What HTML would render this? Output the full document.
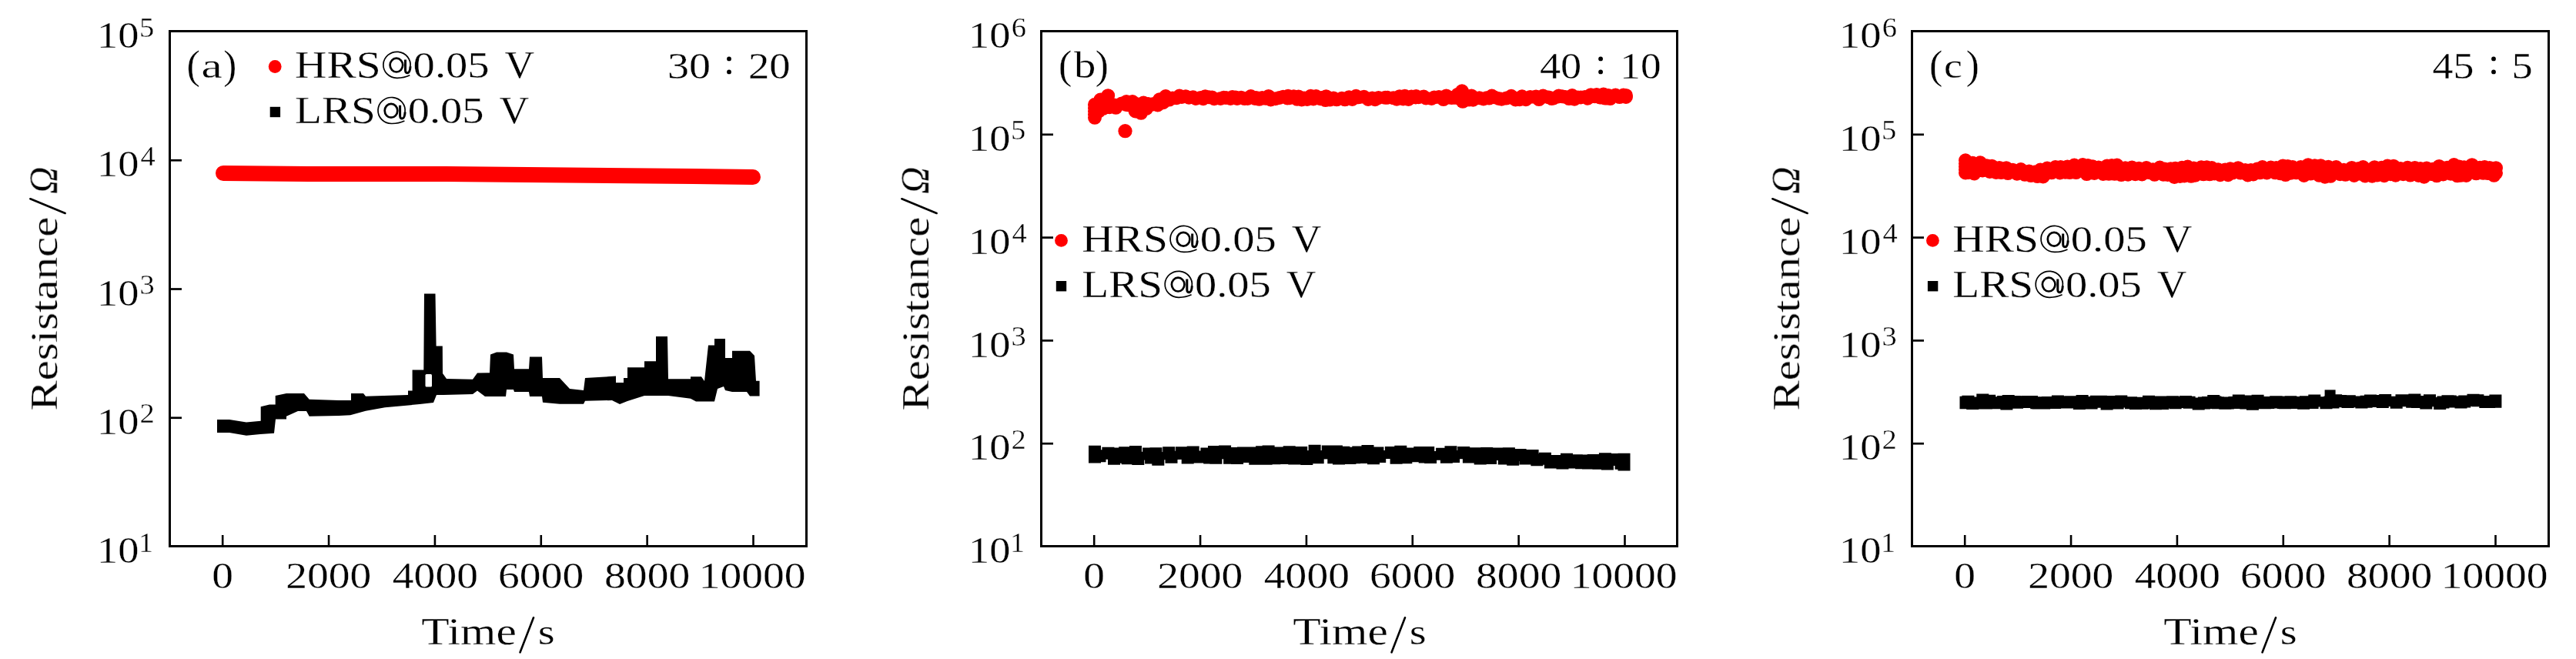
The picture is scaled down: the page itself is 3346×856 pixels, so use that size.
<!DOCTYPE html><html><head><meta charset="utf-8"><style>html,body{margin:0;padding:0;background:#fff;overflow:hidden}svg{display:block;font-family:"Liberation Serif",serif} text{will-change:transform;stroke:#fff;stroke-width:0.3px}</style></head><body>
<svg width="3346" height="856" viewBox="0 0 3346 856" fill="#000">
<rect width="3346" height="856" fill="#fff"/>
<rect x="220.5" y="40.5" width="827.0" height="669.0" fill="none" stroke="#000" stroke-width="3"/>
<line x1="289.20" y1="709.5" x2="289.20" y2="695.0" stroke="#000" stroke-width="2.6"/>
<text transform="translate(275.31,764.40) scale(1.1200,1)" font-size="49.60">0</text>
<line x1="427.06" y1="709.5" x2="427.06" y2="695.0" stroke="#000" stroke-width="2.6"/>
<text transform="translate(371.30,764.40) scale(1.1200,1)" font-size="49.60">2000</text>
<line x1="564.92" y1="709.5" x2="564.92" y2="695.0" stroke="#000" stroke-width="2.6"/>
<text transform="translate(509.85,764.40) scale(1.1200,1)" font-size="49.60">4000</text>
<line x1="702.78" y1="709.5" x2="702.78" y2="695.0" stroke="#000" stroke-width="2.6"/>
<text transform="translate(647.09,764.40) scale(1.1200,1)" font-size="49.60">6000</text>
<line x1="840.64" y1="709.5" x2="840.64" y2="695.0" stroke="#000" stroke-width="2.6"/>
<text transform="translate(785.09,764.40) scale(1.1200,1)" font-size="49.60">8000</text>
<line x1="978.50" y1="709.5" x2="978.50" y2="695.0" stroke="#000" stroke-width="2.6"/>
<text transform="translate(907.67,764.40) scale(1.1200,1)" font-size="49.60">10000</text>
<text transform="translate(125.94,731.20) scale(1.1200,1)" font-size="48.60">10</text>
<text transform="translate(179.94,716.50) scale(1.0800,1)" font-size="35.60">1</text>
<line x1="220.5" y1="542.75" x2="236.0" y2="542.75" stroke="#000" stroke-width="2.7"/>
<text transform="translate(125.94,563.95) scale(1.1200,1)" font-size="48.60">10</text>
<text transform="translate(181.57,549.25) scale(1.0800,1)" font-size="35.60">2</text>
<line x1="220.5" y1="375.50" x2="236.0" y2="375.50" stroke="#000" stroke-width="2.7"/>
<text transform="translate(125.94,396.70) scale(1.1200,1)" font-size="48.60">10</text>
<text transform="translate(181.47,382.00) scale(1.0800,1)" font-size="35.60">3</text>
<line x1="220.5" y1="208.25" x2="236.0" y2="208.25" stroke="#000" stroke-width="2.7"/>
<text transform="translate(125.94,229.45) scale(1.1200,1)" font-size="48.60">10</text>
<text transform="translate(182.53,214.75) scale(1.0800,1)" font-size="35.60">4</text>
<text transform="translate(125.94,62.20) scale(1.1200,1)" font-size="48.60">10</text>
<text transform="translate(181.09,47.50) scale(1.0800,1)" font-size="35.60">5</text>
<text transform="translate(547.26,837.20) scale(1.1976,1)" font-size="49.77">Time</text>
<text transform="translate(698.75,837.20) scale(1.1765,1)" font-size="47.87">s</text>
<line x1="675.6" y1="847.3" x2="693.0" y2="802.3" stroke="#000" stroke-width="2.6" stroke-linecap="round"/>
<text transform="translate(74.00,533.57) rotate(-90) scale(1.1699,1)" font-size="50.38">Resistance</text>
<line x1="84.6" y1="277.0" x2="39.4" y2="258.3" stroke="#000" stroke-width="2.6" stroke-linecap="round"/>
<text transform="translate(74.30,252.00) rotate(-90) scale(0.9440,1)" font-size="51.77" font-style="italic">Ω</text>
<text transform="translate(242.55,101.51) scale(0.9902,1)" font-size="52.67">(</text>
<text transform="translate(290.33,101.51) scale(0.9732,1)" font-size="52.67">)</text>
<text transform="translate(261.46,100.94) scale(1.3247,1)" font-size="46.25">a</text>
<text transform="translate(867.03,101.50) scale(1.1565,1)" font-size="48.57">30</text>
<text transform="translate(972.04,101.50) scale(1.1242,1)" font-size="48.57">20</text>
<circle cx="947.0" cy="76.4" r="2.9"/><circle cx="947.0" cy="93.4" r="2.9"/>
<rect x="1352.5" y="40.5" width="826.0" height="669.0" fill="none" stroke="#000" stroke-width="3"/>
<line x1="1421.20" y1="709.5" x2="1421.20" y2="695.0" stroke="#000" stroke-width="2.6"/>
<text transform="translate(1407.31,764.40) scale(1.1200,1)" font-size="49.60">0</text>
<line x1="1559.06" y1="709.5" x2="1559.06" y2="695.0" stroke="#000" stroke-width="2.6"/>
<text transform="translate(1503.30,764.40) scale(1.1200,1)" font-size="49.60">2000</text>
<line x1="1696.92" y1="709.5" x2="1696.92" y2="695.0" stroke="#000" stroke-width="2.6"/>
<text transform="translate(1641.85,764.40) scale(1.1200,1)" font-size="49.60">4000</text>
<line x1="1834.78" y1="709.5" x2="1834.78" y2="695.0" stroke="#000" stroke-width="2.6"/>
<text transform="translate(1779.09,764.40) scale(1.1200,1)" font-size="49.60">6000</text>
<line x1="1972.64" y1="709.5" x2="1972.64" y2="695.0" stroke="#000" stroke-width="2.6"/>
<text transform="translate(1917.09,764.40) scale(1.1200,1)" font-size="49.60">8000</text>
<line x1="2110.50" y1="709.5" x2="2110.50" y2="695.0" stroke="#000" stroke-width="2.6"/>
<text transform="translate(2039.67,764.40) scale(1.1200,1)" font-size="49.60">10000</text>
<text transform="translate(1257.94,731.20) scale(1.1200,1)" font-size="48.60">10</text>
<text transform="translate(1311.94,716.50) scale(1.0800,1)" font-size="35.60">1</text>
<line x1="1352.5" y1="576.20" x2="1368.0" y2="576.20" stroke="#000" stroke-width="2.7"/>
<text transform="translate(1257.94,597.40) scale(1.1200,1)" font-size="48.60">10</text>
<text transform="translate(1313.57,582.70) scale(1.0800,1)" font-size="35.60">2</text>
<line x1="1352.5" y1="442.40" x2="1368.0" y2="442.40" stroke="#000" stroke-width="2.7"/>
<text transform="translate(1257.94,463.60) scale(1.1200,1)" font-size="48.60">10</text>
<text transform="translate(1313.47,448.90) scale(1.0800,1)" font-size="35.60">3</text>
<line x1="1352.5" y1="308.60" x2="1368.0" y2="308.60" stroke="#000" stroke-width="2.7"/>
<text transform="translate(1257.94,329.80) scale(1.1200,1)" font-size="48.60">10</text>
<text transform="translate(1314.53,315.10) scale(1.0800,1)" font-size="35.60">4</text>
<line x1="1352.5" y1="174.80" x2="1368.0" y2="174.80" stroke="#000" stroke-width="2.7"/>
<text transform="translate(1257.94,196.00) scale(1.1200,1)" font-size="48.60">10</text>
<text transform="translate(1313.09,181.30) scale(1.0800,1)" font-size="35.60">5</text>
<text transform="translate(1257.94,62.20) scale(1.1200,1)" font-size="48.60">10</text>
<text transform="translate(1313.67,47.50) scale(1.0800,1)" font-size="35.60">6</text>
<text transform="translate(1679.26,837.20) scale(1.1976,1)" font-size="49.77">Time</text>
<text transform="translate(1830.75,837.20) scale(1.1765,1)" font-size="47.87">s</text>
<line x1="1807.6" y1="847.3" x2="1825.0" y2="802.3" stroke="#000" stroke-width="2.6" stroke-linecap="round"/>
<text transform="translate(1206.00,533.57) rotate(-90) scale(1.1699,1)" font-size="50.38">Resistance</text>
<line x1="1216.6" y1="277.0" x2="1171.4" y2="258.3" stroke="#000" stroke-width="2.6" stroke-linecap="round"/>
<text transform="translate(1206.30,252.00) rotate(-90) scale(0.9440,1)" font-size="51.77" font-style="italic">Ω</text>
<text transform="translate(1374.95,101.51) scale(0.9902,1)" font-size="52.67">(</text>
<text transform="translate(1422.73,101.51) scale(0.9732,1)" font-size="52.67">)</text>
<text transform="translate(1395.10,100.92) scale(1.1712,1)" font-size="48.37">b</text>
<text transform="translate(1999.91,101.50) scale(1.1206,1)" font-size="48.57">40</text>
<text transform="translate(2104.34,101.50) scale(1.0965,1)" font-size="48.57">10</text>
<circle cx="2079.1" cy="76.4" r="2.9"/><circle cx="2079.1" cy="93.4" r="2.9"/>
<rect x="2483.5" y="40.5" width="827.0" height="669.0" fill="none" stroke="#000" stroke-width="3"/>
<line x1="2552.20" y1="709.5" x2="2552.20" y2="695.0" stroke="#000" stroke-width="2.6"/>
<text transform="translate(2538.31,764.40) scale(1.1200,1)" font-size="49.60">0</text>
<line x1="2690.06" y1="709.5" x2="2690.06" y2="695.0" stroke="#000" stroke-width="2.6"/>
<text transform="translate(2634.30,764.40) scale(1.1200,1)" font-size="49.60">2000</text>
<line x1="2827.92" y1="709.5" x2="2827.92" y2="695.0" stroke="#000" stroke-width="2.6"/>
<text transform="translate(2772.85,764.40) scale(1.1200,1)" font-size="49.60">4000</text>
<line x1="2965.78" y1="709.5" x2="2965.78" y2="695.0" stroke="#000" stroke-width="2.6"/>
<text transform="translate(2910.09,764.40) scale(1.1200,1)" font-size="49.60">6000</text>
<line x1="3103.64" y1="709.5" x2="3103.64" y2="695.0" stroke="#000" stroke-width="2.6"/>
<text transform="translate(3048.09,764.40) scale(1.1200,1)" font-size="49.60">8000</text>
<line x1="3241.50" y1="709.5" x2="3241.50" y2="695.0" stroke="#000" stroke-width="2.6"/>
<text transform="translate(3170.67,764.40) scale(1.1200,1)" font-size="49.60">10000</text>
<text transform="translate(2388.94,731.20) scale(1.1200,1)" font-size="48.60">10</text>
<text transform="translate(2442.94,716.50) scale(1.0800,1)" font-size="35.60">1</text>
<line x1="2483.5" y1="576.20" x2="2499.0" y2="576.20" stroke="#000" stroke-width="2.7"/>
<text transform="translate(2388.94,597.40) scale(1.1200,1)" font-size="48.60">10</text>
<text transform="translate(2444.57,582.70) scale(1.0800,1)" font-size="35.60">2</text>
<line x1="2483.5" y1="442.40" x2="2499.0" y2="442.40" stroke="#000" stroke-width="2.7"/>
<text transform="translate(2388.94,463.60) scale(1.1200,1)" font-size="48.60">10</text>
<text transform="translate(2444.47,448.90) scale(1.0800,1)" font-size="35.60">3</text>
<line x1="2483.5" y1="308.60" x2="2499.0" y2="308.60" stroke="#000" stroke-width="2.7"/>
<text transform="translate(2388.94,329.80) scale(1.1200,1)" font-size="48.60">10</text>
<text transform="translate(2445.53,315.10) scale(1.0800,1)" font-size="35.60">4</text>
<line x1="2483.5" y1="174.80" x2="2499.0" y2="174.80" stroke="#000" stroke-width="2.7"/>
<text transform="translate(2388.94,196.00) scale(1.1200,1)" font-size="48.60">10</text>
<text transform="translate(2444.09,181.30) scale(1.0800,1)" font-size="35.60">5</text>
<text transform="translate(2388.94,62.20) scale(1.1200,1)" font-size="48.60">10</text>
<text transform="translate(2444.67,47.50) scale(1.0800,1)" font-size="35.60">6</text>
<text transform="translate(2810.26,837.20) scale(1.1976,1)" font-size="49.77">Time</text>
<text transform="translate(2961.75,837.20) scale(1.1765,1)" font-size="47.87">s</text>
<line x1="2938.6" y1="847.3" x2="2956.0" y2="802.3" stroke="#000" stroke-width="2.6" stroke-linecap="round"/>
<text transform="translate(2337.00,533.57) rotate(-90) scale(1.1699,1)" font-size="50.38">Resistance</text>
<line x1="2347.6" y1="277.0" x2="2302.4" y2="258.3" stroke="#000" stroke-width="2.6" stroke-linecap="round"/>
<text transform="translate(2337.30,252.00) rotate(-90) scale(0.9440,1)" font-size="51.77" font-style="italic">Ω</text>
<text transform="translate(2505.95,101.51) scale(0.9902,1)" font-size="52.67">(</text>
<text transform="translate(2553.73,101.51) scale(0.9732,1)" font-size="52.67">)</text>
<text transform="translate(2525.08,100.94) scale(1.1647,1)" font-size="46.25">c</text>
<text transform="translate(3159.62,101.50) scale(1.1083,1)" font-size="48.57">45</text>
<text transform="translate(3262.47,101.50) scale(1.1202,1)" font-size="48.57">5</text>
<circle cx="3239.0" cy="76.4" r="2.9"/><circle cx="3239.0" cy="93.4" r="2.9"/>
<polyline points="290.0,225.0 400.0,226.0 580.0,226.0 900.0,229.0 978.0,230.0" fill="none" stroke="#ff0000" stroke-width="20" stroke-linecap="round" stroke-linejoin="round"/>
<polygon points="282.0,545.0 298.0,545.0 320.0,548.5 338.7,546.8 338.7,528.3 350.0,525.5 357.7,525.5 357.7,514.0 372.0,511.0 395.0,511.0 401.7,518.7 440.0,520.0 456.0,520.0 456.0,511.0 472.0,511.0 475.0,514.7 530.0,512.9 530.0,507.4 535.6,507.4 535.6,480.5 550.3,480.5 551.0,381.4 565.5,381.4 566.6,449.6 574.8,449.6 575.0,485.0 580.0,492.0 614.0,492.8 620.0,484.6 636.0,484.3 637.0,460.6 645.0,457.6 658.0,457.6 667.0,460.6 668.0,479.3 687.0,479.3 688.0,463.5 704.0,463.5 705.0,491.0 727.0,491.0 740.0,505.0 758.0,507.0 760.0,491.0 792.0,489.0 800.0,488.6 800.0,497.0 810.0,497.0 810.0,491.0 815.0,491.0 815.0,477.2 837.0,477.2 837.0,469.2 852.0,469.2 852.0,436.9 867.0,436.9 868.0,492.3 897.0,492.3 897.0,489.3 911.0,489.3 915.0,495.0 920.0,448.6 928.0,448.6 928.0,440.0 942.0,440.0 942.0,465.0 951.0,465.0 951.0,455.8 974.0,455.8 980.0,462.0 982.0,494.7 986.6,494.7 986.6,514.6 974.0,514.6 970.0,509.0 951.0,509.0 942.0,507.0 940.0,502.0 932.0,505.0 928.0,521.4 904.0,521.4 897.0,517.7 868.0,514.0 837.0,514.0 815.0,521.0 805.0,525.0 795.0,520.0 760.0,520.8 758.0,524.7 727.0,524.7 705.0,522.7 704.0,515.0 688.0,515.0 687.0,509.0 668.0,509.0 667.0,506.0 658.0,506.0 657.0,514.9 630.0,514.9 620.0,507.4 614.0,512.0 576.0,512.9 567.0,513.0 563.0,523.0 545.0,525.0 525.0,527.0 500.0,529.3 475.0,533.8 455.0,539.3 440.0,540.0 401.7,540.7 398.0,533.9 387.0,533.9 372.0,540.7 372.0,544.5 358.0,544.5 356.0,562.7 338.0,564.0 320.0,565.7 298.0,562.0 282.0,562.0" fill="#000"/>
<rect x="552.5" y="486" width="8.5" height="16.5" rx="1.5" fill="#fff"/>
<path d="M1413.0,135.8a9,9 0 1,0 18,0a9,9 0 1,0 -18,0M1418.4,144.5a9,9 0 1,0 18,0a9,9 0 1,0 -18,0M1420.3,129.5a9,9 0 1,0 18,0a9,9 0 1,0 -18,0M1424.1,141.0a9,9 0 1,0 18,0a9,9 0 1,0 -18,0M1430.2,124.2a9,9 0 1,0 18,0a9,9 0 1,0 -18,0M1432.3,139.2a9,9 0 1,0 18,0a9,9 0 1,0 -18,0M1438.4,136.5a9,9 0 1,0 18,0a9,9 0 1,0 -18,0M1440.4,139.8a9,9 0 1,0 18,0a9,9 0 1,0 -18,0M1448.0,134.4a9,9 0 1,0 18,0a9,9 0 1,0 -18,0M1453.8,136.0a9,9 0 1,0 18,0a9,9 0 1,0 -18,0M1454.1,132.1a9,9 0 1,0 18,0a9,9 0 1,0 -18,0M1458.3,136.7a9,9 0 1,0 18,0a9,9 0 1,0 -18,0M1462.0,132.0a9,9 0 1,0 18,0a9,9 0 1,0 -18,0M1465.7,144.4a9,9 0 1,0 18,0a9,9 0 1,0 -18,0M1469.2,135.5a9,9 0 1,0 18,0a9,9 0 1,0 -18,0M1473.1,146.8a9,9 0 1,0 18,0a9,9 0 1,0 -18,0M1476.3,133.5a9,9 0 1,0 18,0a9,9 0 1,0 -18,0M1480.2,140.9a9,9 0 1,0 18,0a9,9 0 1,0 -18,0M1482.4,134.9a9,9 0 1,0 18,0a9,9 0 1,0 -18,0M1486.6,136.0a9,9 0 1,0 18,0a9,9 0 1,0 -18,0M1489.3,135.1a9,9 0 1,0 18,0a9,9 0 1,0 -18,0M1494.8,136.4a9,9 0 1,0 18,0a9,9 0 1,0 -18,0M1497.0,129.3a9,9 0 1,0 18,0a9,9 0 1,0 -18,0M1501.9,133.2a9,9 0 1,0 18,0a9,9 0 1,0 -18,0M1505.1,125.0a9,9 0 1,0 18,0a9,9 0 1,0 -18,0M1509.8,129.6a9,9 0 1,0 18,0a9,9 0 1,0 -18,0M1514.1,127.4a9,9 0 1,0 18,0a9,9 0 1,0 -18,0M1519.4,127.2a9,9 0 1,0 18,0a9,9 0 1,0 -18,0M1523.0,124.5a9,9 0 1,0 18,0a9,9 0 1,0 -18,0M1526.0,125.9a9,9 0 1,0 18,0a9,9 0 1,0 -18,0M1531.1,125.2a9,9 0 1,0 18,0a9,9 0 1,0 -18,0M1535.3,126.7a9,9 0 1,0 18,0a9,9 0 1,0 -18,0M1540.5,126.3a9,9 0 1,0 18,0a9,9 0 1,0 -18,0M1544.2,127.9a9,9 0 1,0 18,0a9,9 0 1,0 -18,0M1550.3,127.1a9,9 0 1,0 18,0a9,9 0 1,0 -18,0M1553.9,128.2a9,9 0 1,0 18,0a9,9 0 1,0 -18,0M1556.5,125.2a9,9 0 1,0 18,0a9,9 0 1,0 -18,0M1561.3,126.3a9,9 0 1,0 18,0a9,9 0 1,0 -18,0M1565.5,126.5a9,9 0 1,0 18,0a9,9 0 1,0 -18,0M1568.1,128.2a9,9 0 1,0 18,0a9,9 0 1,0 -18,0M1576.4,128.0a9,9 0 1,0 18,0a9,9 0 1,0 -18,0M1580.5,126.8a9,9 0 1,0 18,0a9,9 0 1,0 -18,0M1583.5,127.0a9,9 0 1,0 18,0a9,9 0 1,0 -18,0M1589.3,127.9a9,9 0 1,0 18,0a9,9 0 1,0 -18,0M1591.8,126.0a9,9 0 1,0 18,0a9,9 0 1,0 -18,0M1596.0,126.4a9,9 0 1,0 18,0a9,9 0 1,0 -18,0M1597.9,128.0a9,9 0 1,0 18,0a9,9 0 1,0 -18,0M1603.1,126.7a9,9 0 1,0 18,0a9,9 0 1,0 -18,0M1607.6,128.1a9,9 0 1,0 18,0a9,9 0 1,0 -18,0M1611.6,128.0a9,9 0 1,0 18,0a9,9 0 1,0 -18,0M1615.7,125.1a9,9 0 1,0 18,0a9,9 0 1,0 -18,0M1621.2,127.9a9,9 0 1,0 18,0a9,9 0 1,0 -18,0M1622.7,126.9a9,9 0 1,0 18,0a9,9 0 1,0 -18,0M1626.6,128.8a9,9 0 1,0 18,0a9,9 0 1,0 -18,0M1630.4,127.0a9,9 0 1,0 18,0a9,9 0 1,0 -18,0M1634.9,127.8a9,9 0 1,0 18,0a9,9 0 1,0 -18,0M1638.7,124.9a9,9 0 1,0 18,0a9,9 0 1,0 -18,0M1641.6,129.5a9,9 0 1,0 18,0a9,9 0 1,0 -18,0M1647.6,128.2a9,9 0 1,0 18,0a9,9 0 1,0 -18,0M1652.8,127.0a9,9 0 1,0 18,0a9,9 0 1,0 -18,0M1657.7,125.8a9,9 0 1,0 18,0a9,9 0 1,0 -18,0M1663.1,127.5a9,9 0 1,0 18,0a9,9 0 1,0 -18,0M1664.1,124.8a9,9 0 1,0 18,0a9,9 0 1,0 -18,0M1666.2,127.2a9,9 0 1,0 18,0a9,9 0 1,0 -18,0M1671.4,125.2a9,9 0 1,0 18,0a9,9 0 1,0 -18,0M1675.9,128.8a9,9 0 1,0 18,0a9,9 0 1,0 -18,0M1677.7,125.4a9,9 0 1,0 18,0a9,9 0 1,0 -18,0M1681.8,129.5a9,9 0 1,0 18,0a9,9 0 1,0 -18,0M1685.1,127.6a9,9 0 1,0 18,0a9,9 0 1,0 -18,0M1688.9,128.9a9,9 0 1,0 18,0a9,9 0 1,0 -18,0M1693.5,124.8a9,9 0 1,0 18,0a9,9 0 1,0 -18,0M1697.0,128.5a9,9 0 1,0 18,0a9,9 0 1,0 -18,0M1700.4,125.1a9,9 0 1,0 18,0a9,9 0 1,0 -18,0M1706.0,128.2a9,9 0 1,0 18,0a9,9 0 1,0 -18,0M1707.4,127.1a9,9 0 1,0 18,0a9,9 0 1,0 -18,0M1712.7,130.1a9,9 0 1,0 18,0a9,9 0 1,0 -18,0M1713.5,125.2a9,9 0 1,0 18,0a9,9 0 1,0 -18,0M1718.4,129.6a9,9 0 1,0 18,0a9,9 0 1,0 -18,0M1723.1,127.4a9,9 0 1,0 18,0a9,9 0 1,0 -18,0M1727.2,129.3a9,9 0 1,0 18,0a9,9 0 1,0 -18,0M1733.9,127.8a9,9 0 1,0 18,0a9,9 0 1,0 -18,0M1738.0,129.3a9,9 0 1,0 18,0a9,9 0 1,0 -18,0M1743.2,126.2a9,9 0 1,0 18,0a9,9 0 1,0 -18,0M1747.5,128.9a9,9 0 1,0 18,0a9,9 0 1,0 -18,0M1752.3,124.8a9,9 0 1,0 18,0a9,9 0 1,0 -18,0M1755.5,126.3a9,9 0 1,0 18,0a9,9 0 1,0 -18,0M1762.7,125.8a9,9 0 1,0 18,0a9,9 0 1,0 -18,0M1768.1,129.0a9,9 0 1,0 18,0a9,9 0 1,0 -18,0M1773.4,127.5a9,9 0 1,0 18,0a9,9 0 1,0 -18,0M1777.1,129.2a9,9 0 1,0 18,0a9,9 0 1,0 -18,0M1779.4,128.0a9,9 0 1,0 18,0a9,9 0 1,0 -18,0M1781.6,126.9a9,9 0 1,0 18,0a9,9 0 1,0 -18,0M1790.3,126.8a9,9 0 1,0 18,0a9,9 0 1,0 -18,0M1792.9,126.7a9,9 0 1,0 18,0a9,9 0 1,0 -18,0M1801.1,127.3a9,9 0 1,0 18,0a9,9 0 1,0 -18,0M1805.2,128.7a9,9 0 1,0 18,0a9,9 0 1,0 -18,0M1808.9,125.2a9,9 0 1,0 18,0a9,9 0 1,0 -18,0M1813.6,128.4a9,9 0 1,0 18,0a9,9 0 1,0 -18,0M1815.8,124.8a9,9 0 1,0 18,0a9,9 0 1,0 -18,0M1820.5,129.0a9,9 0 1,0 18,0a9,9 0 1,0 -18,0M1824.3,125.6a9,9 0 1,0 18,0a9,9 0 1,0 -18,0M1829.8,126.5a9,9 0 1,0 18,0a9,9 0 1,0 -18,0M1830.4,125.1a9,9 0 1,0 18,0a9,9 0 1,0 -18,0M1833.7,126.2a9,9 0 1,0 18,0a9,9 0 1,0 -18,0M1840.3,125.6a9,9 0 1,0 18,0a9,9 0 1,0 -18,0M1843.2,127.4a9,9 0 1,0 18,0a9,9 0 1,0 -18,0M1850.5,127.9a9,9 0 1,0 18,0a9,9 0 1,0 -18,0M1853.9,126.5a9,9 0 1,0 18,0a9,9 0 1,0 -18,0M1860.0,126.1a9,9 0 1,0 18,0a9,9 0 1,0 -18,0M1865.9,129.1a9,9 0 1,0 18,0a9,9 0 1,0 -18,0M1869.6,124.4a9,9 0 1,0 18,0a9,9 0 1,0 -18,0M1872.3,126.4a9,9 0 1,0 18,0a9,9 0 1,0 -18,0M1876.6,127.1a9,9 0 1,0 18,0a9,9 0 1,0 -18,0M1881.0,126.7a9,9 0 1,0 18,0a9,9 0 1,0 -18,0M1884.5,122.7a9,9 0 1,0 18,0a9,9 0 1,0 -18,0M1887.7,128.7a9,9 0 1,0 18,0a9,9 0 1,0 -18,0M1893.5,123.7a9,9 0 1,0 18,0a9,9 0 1,0 -18,0M1899.1,129.5a9,9 0 1,0 18,0a9,9 0 1,0 -18,0M1902.3,124.4a9,9 0 1,0 18,0a9,9 0 1,0 -18,0M1904.4,129.7a9,9 0 1,0 18,0a9,9 0 1,0 -18,0M1912.6,127.2a9,9 0 1,0 18,0a9,9 0 1,0 -18,0M1917.9,128.5a9,9 0 1,0 18,0a9,9 0 1,0 -18,0M1921.7,127.3a9,9 0 1,0 18,0a9,9 0 1,0 -18,0M1925.2,127.6a9,9 0 1,0 18,0a9,9 0 1,0 -18,0M1928.8,124.5a9,9 0 1,0 18,0a9,9 0 1,0 -18,0M1931.9,126.3a9,9 0 1,0 18,0a9,9 0 1,0 -18,0M1937.6,127.9a9,9 0 1,0 18,0a9,9 0 1,0 -18,0M1941.4,128.7a9,9 0 1,0 18,0a9,9 0 1,0 -18,0M1947.5,127.6a9,9 0 1,0 18,0a9,9 0 1,0 -18,0M1949.6,127.0a9,9 0 1,0 18,0a9,9 0 1,0 -18,0M1954.0,124.8a9,9 0 1,0 18,0a9,9 0 1,0 -18,0M1959.5,129.5a9,9 0 1,0 18,0a9,9 0 1,0 -18,0M1961.2,128.3a9,9 0 1,0 18,0a9,9 0 1,0 -18,0M1964.9,129.2a9,9 0 1,0 18,0a9,9 0 1,0 -18,0M1968.0,125.3a9,9 0 1,0 18,0a9,9 0 1,0 -18,0M1973.0,129.2a9,9 0 1,0 18,0a9,9 0 1,0 -18,0M1978.6,125.9a9,9 0 1,0 18,0a9,9 0 1,0 -18,0M1984.5,125.9a9,9 0 1,0 18,0a9,9 0 1,0 -18,0M1986.1,125.5a9,9 0 1,0 18,0a9,9 0 1,0 -18,0M1990.0,129.1a9,9 0 1,0 18,0a9,9 0 1,0 -18,0M1995.3,124.5a9,9 0 1,0 18,0a9,9 0 1,0 -18,0M1997.4,125.5a9,9 0 1,0 18,0a9,9 0 1,0 -18,0M2002.8,126.4a9,9 0 1,0 18,0a9,9 0 1,0 -18,0M2006.6,128.1a9,9 0 1,0 18,0a9,9 0 1,0 -18,0M2009.1,127.5a9,9 0 1,0 18,0a9,9 0 1,0 -18,0M2015.0,125.4a9,9 0 1,0 18,0a9,9 0 1,0 -18,0M2015.7,124.4a9,9 0 1,0 18,0a9,9 0 1,0 -18,0M2020.1,125.3a9,9 0 1,0 18,0a9,9 0 1,0 -18,0M2024.4,126.0a9,9 0 1,0 18,0a9,9 0 1,0 -18,0M2029.0,128.1a9,9 0 1,0 18,0a9,9 0 1,0 -18,0M2033.1,124.1a9,9 0 1,0 18,0a9,9 0 1,0 -18,0M2036.1,128.7a9,9 0 1,0 18,0a9,9 0 1,0 -18,0M2040.5,126.5a9,9 0 1,0 18,0a9,9 0 1,0 -18,0M2044.3,126.4a9,9 0 1,0 18,0a9,9 0 1,0 -18,0M2049.7,126.0a9,9 0 1,0 18,0a9,9 0 1,0 -18,0M2053.3,127.7a9,9 0 1,0 18,0a9,9 0 1,0 -18,0M2057.4,123.2a9,9 0 1,0 18,0a9,9 0 1,0 -18,0M2062.7,125.2a9,9 0 1,0 18,0a9,9 0 1,0 -18,0M2064.9,123.0a9,9 0 1,0 18,0a9,9 0 1,0 -18,0M2069.0,126.4a9,9 0 1,0 18,0a9,9 0 1,0 -18,0M2073.8,122.5a9,9 0 1,0 18,0a9,9 0 1,0 -18,0M2075.9,127.6a9,9 0 1,0 18,0a9,9 0 1,0 -18,0M2080.2,124.1a9,9 0 1,0 18,0a9,9 0 1,0 -18,0M2082.5,128.1a9,9 0 1,0 18,0a9,9 0 1,0 -18,0M2089.4,123.5a9,9 0 1,0 18,0a9,9 0 1,0 -18,0M2094.6,126.1a9,9 0 1,0 18,0a9,9 0 1,0 -18,0M2099.7,123.5a9,9 0 1,0 18,0a9,9 0 1,0 -18,0M2103.0,123.9a9,9 0 1,0 18,0a9,9 0 1,0 -18,0M1413.0,136.3a9,9 0 1,0 18,0a9,9 0 1,0 -18,0M1413.0,140.4a9,9 0 1,0 18,0a9,9 0 1,0 -18,0M1413.0,144.5a9,9 0 1,0 18,0a9,9 0 1,0 -18,0M1413.0,148.7a9,9 0 1,0 18,0a9,9 0 1,0 -18,0M1413.0,152.8a9,9 0 1,0 18,0a9,9 0 1,0 -18,0M2103.0,125.1a9,9 0 1,0 18,0a9,9 0 1,0 -18,0M2103.0,126.0a9,9 0 1,0 18,0a9,9 0 1,0 -18,0" fill="#ff0000"/>
<polygon points="1420.0,157.0 1417.0,138.6 1425.5,131.3 1430.3,125.2 1437.0,122.2 1443.0,124.0 1447.3,132.5 1457.0,132.5 1469.2,129.5 1479.0,133.0 1489.8,130.7 1499.5,130.0 1513.0,120.4 1521.4,122.8 1533.5,123.4 1560.0,124.0 1800.0,123.5 1890.0,123.0 1899.0,116.2 1908.0,123.0 2000.0,123.5 2080.0,120.4 2110.0,122.0 2119.0,127.0 2114.0,132.0 2112.0,125.0 2110.0,128.9 2080.0,129.7 2000.0,130.5 1908.0,131.0 1899.0,133.9 1890.0,131.0 1800.0,131.2 1560.0,131.2 1533.5,130.0 1520.2,130.6 1511.7,137.9 1499.5,137.9 1491.0,141.6 1481.3,149.4 1468.0,141.6 1458.3,139.7 1448.6,142.8 1436.4,144.0 1430.3,145.2 1421.9,154.9 1420.0,150.0" fill="#ff0000"/>
<circle cx="1461.5" cy="170.2" r="9.1" fill="#ff0000"/><circle cx="1899" cy="118.3" r="9" fill="#ff0000"/><circle cx="1900" cy="131.8" r="9" fill="#ff0000"/>
<path d="M1414.0,580.1h16v16h-16zM1420.5,584.2h16v16h-16zM1431.4,580.7h16v16h-16zM1439.0,587.7h16v16h-16zM1444.1,581.6h16v16h-16zM1450.0,585.8h16v16h-16zM1453.2,580.3h16v16h-16zM1456.7,587.2h16v16h-16zM1467.0,579.1h16v16h-16zM1470.3,588.0h16v16h-16zM1484.1,581.6h16v16h-16zM1487.1,586.4h16v16h-16zM1493.5,581.3h16v16h-16zM1496.3,588.8h16v16h-16zM1510.2,580.3h16v16h-16zM1513.5,585.8h16v16h-16zM1526.9,580.2h16v16h-16zM1534.7,586.5h16v16h-16zM1541.7,579.6h16v16h-16zM1549.4,585.6h16v16h-16zM1559.4,581.5h16v16h-16zM1563.2,586.6h16v16h-16zM1569.0,579.1h16v16h-16zM1571.4,586.8h16v16h-16zM1583.1,578.6h16v16h-16zM1589.1,586.8h16v16h-16zM1594.2,580.9h16v16h-16zM1599.1,586.9h16v16h-16zM1607.0,580.4h16v16h-16zM1609.3,584.9h16v16h-16zM1615.2,580.5h16v16h-16zM1622.3,587.8h16v16h-16zM1631.1,579.2h16v16h-16zM1636.6,587.8h16v16h-16zM1639.6,578.5h16v16h-16zM1647.3,587.3h16v16h-16zM1655.1,580.6h16v16h-16zM1662.8,586.9h16v16h-16zM1666.7,579.3h16v16h-16zM1673.3,587.6h16v16h-16zM1682.2,580.0h16v16h-16zM1689.3,587.9h16v16h-16zM1699.6,577.7h16v16h-16zM1703.7,586.2h16v16h-16zM1716.8,578.5h16v16h-16zM1724.3,586.2h16v16h-16zM1727.9,578.6h16v16h-16zM1731.0,587.5h16v16h-16zM1737.4,579.7h16v16h-16zM1745.4,587.1h16v16h-16zM1745.9,580.7h16v16h-16zM1751.1,586.3h16v16h-16zM1756.3,579.6h16v16h-16zM1763.2,586.1h16v16h-16zM1768.5,578.1h16v16h-16zM1776.0,587.2h16v16h-16zM1781.4,580.5h16v16h-16zM1784.2,585.1h16v16h-16zM1798.9,580.1h16v16h-16zM1805.6,586.8h16v16h-16zM1811.3,578.8h16v16h-16zM1818.3,586.2h16v16h-16zM1823.8,581.5h16v16h-16zM1830.9,584.2h16v16h-16zM1836.3,580.1h16v16h-16zM1842.7,585.6h16v16h-16zM1847.2,579.9h16v16h-16zM1850.1,585.9h16v16h-16zM1865.1,581.8h16v16h-16zM1870.9,585.7h16v16h-16zM1876.5,579.2h16v16h-16zM1880.1,585.1h16v16h-16zM1893.2,580.0h16v16h-16zM1899.9,585.6h16v16h-16zM1908.1,581.2h16v16h-16zM1914.7,587.5h16v16h-16zM1923.2,580.9h16v16h-16zM1928.1,587.0h16v16h-16zM1938.1,581.6h16v16h-16zM1945.8,587.6h16v16h-16zM1951.9,581.2h16v16h-16zM1957.2,588.7h16v16h-16zM1966.6,583.0h16v16h-16zM1973.5,587.6h16v16h-16zM1982.6,584.1h16v16h-16zM1988.4,589.3h16v16h-16zM1998.9,587.7h16v16h-16zM2005.9,592.4h16v16h-16zM2013.7,591.1h16v16h-16zM2021.5,593.6h16v16h-16zM2027.0,588.7h16v16h-16zM2034.1,592.5h16v16h-16zM2039.8,590.3h16v16h-16zM2046.1,593.2h16v16h-16zM2049.5,590.5h16v16h-16zM2055.0,593.5h16v16h-16zM2061.7,590.1h16v16h-16zM2068.4,593.8h16v16h-16zM2076.9,588.3h16v16h-16zM2079.9,594.4h16v16h-16zM2091.4,588.9h16v16h-16zM2097.6,593.8h16v16h-16zM2099.9,589.6h16v16h-16zM2101.5,595.5h16v16h-16zM2101.5,588.7h16v16h-16zM2101.5,595.2h16v16h-16zM1414.0,578.7h16v16h-16zM1414.0,585.6h16v16h-16z" fill="#000"/>
<polygon points="1417.0,585.6 1462.0,586.4 1521.0,587.2 1555.0,586.4 1710.0,584.9 1800.0,585.6 1870.0,586.4 1910.0,586.4 1940.0,588.0 1986.0,589.5 2014.0,595.7 2114.5,595.7 2114.5,604.2 2080.0,604.2 2014.0,603.5 1986.0,598.0 1940.0,598.0 1910.0,596.5 1870.0,595.5 1800.0,595.7 1710.0,596.5 1555.0,596.2 1521.0,597.3 1462.0,597.3 1417.0,594.1" fill="#000"/>
<path d="M2544.0,208.3a9,9 0 1,0 18,0a9,9 0 1,0 -18,0M2548.2,224.0a9,9 0 1,0 18,0a9,9 0 1,0 -18,0M2553.0,211.7a9,9 0 1,0 18,0a9,9 0 1,0 -18,0M2555.3,225.4a9,9 0 1,0 18,0a9,9 0 1,0 -18,0M2563.2,211.3a9,9 0 1,0 18,0a9,9 0 1,0 -18,0M2566.1,221.5a9,9 0 1,0 18,0a9,9 0 1,0 -18,0M2571.6,215.2a9,9 0 1,0 18,0a9,9 0 1,0 -18,0M2575.5,222.9a9,9 0 1,0 18,0a9,9 0 1,0 -18,0M2578.3,215.7a9,9 0 1,0 18,0a9,9 0 1,0 -18,0M2583.8,223.9a9,9 0 1,0 18,0a9,9 0 1,0 -18,0M2588.0,217.9a9,9 0 1,0 18,0a9,9 0 1,0 -18,0M2590.3,224.1a9,9 0 1,0 18,0a9,9 0 1,0 -18,0M2597.0,218.2a9,9 0 1,0 18,0a9,9 0 1,0 -18,0M2599.1,225.1a9,9 0 1,0 18,0a9,9 0 1,0 -18,0M2605.3,220.7a9,9 0 1,0 18,0a9,9 0 1,0 -18,0M2610.9,225.7a9,9 0 1,0 18,0a9,9 0 1,0 -18,0M2615.9,220.0a9,9 0 1,0 18,0a9,9 0 1,0 -18,0M2621.1,226.8a9,9 0 1,0 18,0a9,9 0 1,0 -18,0M2626.6,222.6a9,9 0 1,0 18,0a9,9 0 1,0 -18,0M2629.0,228.1a9,9 0 1,0 18,0a9,9 0 1,0 -18,0M2633.7,223.4a9,9 0 1,0 18,0a9,9 0 1,0 -18,0M2637.4,229.1a9,9 0 1,0 18,0a9,9 0 1,0 -18,0M2641.2,220.6a9,9 0 1,0 18,0a9,9 0 1,0 -18,0M2644.8,229.5a9,9 0 1,0 18,0a9,9 0 1,0 -18,0M2650.1,218.6a9,9 0 1,0 18,0a9,9 0 1,0 -18,0M2655.8,224.3a9,9 0 1,0 18,0a9,9 0 1,0 -18,0M2660.8,217.0a9,9 0 1,0 18,0a9,9 0 1,0 -18,0M2666.7,224.5a9,9 0 1,0 18,0a9,9 0 1,0 -18,0M2667.6,216.9a9,9 0 1,0 18,0a9,9 0 1,0 -18,0M2673.5,223.7a9,9 0 1,0 18,0a9,9 0 1,0 -18,0M2676.4,216.4a9,9 0 1,0 18,0a9,9 0 1,0 -18,0M2679.3,224.1a9,9 0 1,0 18,0a9,9 0 1,0 -18,0M2685.3,214.6a9,9 0 1,0 18,0a9,9 0 1,0 -18,0M2687.6,224.1a9,9 0 1,0 18,0a9,9 0 1,0 -18,0M2696.3,214.0a9,9 0 1,0 18,0a9,9 0 1,0 -18,0M2701.5,226.1a9,9 0 1,0 18,0a9,9 0 1,0 -18,0M2703.0,214.9a9,9 0 1,0 18,0a9,9 0 1,0 -18,0M2708.1,224.3a9,9 0 1,0 18,0a9,9 0 1,0 -18,0M2709.2,216.3a9,9 0 1,0 18,0a9,9 0 1,0 -18,0M2711.4,225.0a9,9 0 1,0 18,0a9,9 0 1,0 -18,0M2716.9,217.5a9,9 0 1,0 18,0a9,9 0 1,0 -18,0M2722.8,226.0a9,9 0 1,0 18,0a9,9 0 1,0 -18,0M2727.9,215.4a9,9 0 1,0 18,0a9,9 0 1,0 -18,0M2730.2,225.8a9,9 0 1,0 18,0a9,9 0 1,0 -18,0M2734.0,215.1a9,9 0 1,0 18,0a9,9 0 1,0 -18,0M2737.7,225.8a9,9 0 1,0 18,0a9,9 0 1,0 -18,0M2740.8,214.6a9,9 0 1,0 18,0a9,9 0 1,0 -18,0M2746.3,227.1a9,9 0 1,0 18,0a9,9 0 1,0 -18,0M2751.6,218.3a9,9 0 1,0 18,0a9,9 0 1,0 -18,0M2755.1,226.7a9,9 0 1,0 18,0a9,9 0 1,0 -18,0M2760.2,217.4a9,9 0 1,0 18,0a9,9 0 1,0 -18,0M2764.6,226.2a9,9 0 1,0 18,0a9,9 0 1,0 -18,0M2769.3,218.8a9,9 0 1,0 18,0a9,9 0 1,0 -18,0M2773.3,226.4a9,9 0 1,0 18,0a9,9 0 1,0 -18,0M2778.9,217.9a9,9 0 1,0 18,0a9,9 0 1,0 -18,0M2782.1,224.0a9,9 0 1,0 18,0a9,9 0 1,0 -18,0M2787.5,220.2a9,9 0 1,0 18,0a9,9 0 1,0 -18,0M2789.6,226.8a9,9 0 1,0 18,0a9,9 0 1,0 -18,0M2796.4,217.5a9,9 0 1,0 18,0a9,9 0 1,0 -18,0M2800.9,226.7a9,9 0 1,0 18,0a9,9 0 1,0 -18,0M2802.7,219.5a9,9 0 1,0 18,0a9,9 0 1,0 -18,0M2806.6,227.0a9,9 0 1,0 18,0a9,9 0 1,0 -18,0M2810.5,219.3a9,9 0 1,0 18,0a9,9 0 1,0 -18,0M2815.4,229.9a9,9 0 1,0 18,0a9,9 0 1,0 -18,0M2816.8,218.7a9,9 0 1,0 18,0a9,9 0 1,0 -18,0M2822.6,229.0a9,9 0 1,0 18,0a9,9 0 1,0 -18,0M2825.1,217.8a9,9 0 1,0 18,0a9,9 0 1,0 -18,0M2828.3,228.5a9,9 0 1,0 18,0a9,9 0 1,0 -18,0M2832.6,216.6a9,9 0 1,0 18,0a9,9 0 1,0 -18,0M2837.0,228.8a9,9 0 1,0 18,0a9,9 0 1,0 -18,0M2840.5,218.6a9,9 0 1,0 18,0a9,9 0 1,0 -18,0M2842.6,227.7a9,9 0 1,0 18,0a9,9 0 1,0 -18,0M2850.2,217.3a9,9 0 1,0 18,0a9,9 0 1,0 -18,0M2853.1,226.3a9,9 0 1,0 18,0a9,9 0 1,0 -18,0M2857.4,217.2a9,9 0 1,0 18,0a9,9 0 1,0 -18,0M2861.1,226.3a9,9 0 1,0 18,0a9,9 0 1,0 -18,0M2863.9,218.0a9,9 0 1,0 18,0a9,9 0 1,0 -18,0M2867.2,225.5a9,9 0 1,0 18,0a9,9 0 1,0 -18,0M2872.1,220.3a9,9 0 1,0 18,0a9,9 0 1,0 -18,0M2874.8,227.2a9,9 0 1,0 18,0a9,9 0 1,0 -18,0M2881.3,220.6a9,9 0 1,0 18,0a9,9 0 1,0 -18,0M2885.1,227.2a9,9 0 1,0 18,0a9,9 0 1,0 -18,0M2887.9,219.3a9,9 0 1,0 18,0a9,9 0 1,0 -18,0M2890.7,224.6a9,9 0 1,0 18,0a9,9 0 1,0 -18,0M2898.1,218.2a9,9 0 1,0 18,0a9,9 0 1,0 -18,0M2901.2,224.6a9,9 0 1,0 18,0a9,9 0 1,0 -18,0M2907.3,220.9a9,9 0 1,0 18,0a9,9 0 1,0 -18,0M2910.7,227.4a9,9 0 1,0 18,0a9,9 0 1,0 -18,0M2914.8,221.0a9,9 0 1,0 18,0a9,9 0 1,0 -18,0M2917.9,226.5a9,9 0 1,0 18,0a9,9 0 1,0 -18,0M2922.9,219.5a9,9 0 1,0 18,0a9,9 0 1,0 -18,0M2926.5,224.3a9,9 0 1,0 18,0a9,9 0 1,0 -18,0M2929.7,217.1a9,9 0 1,0 18,0a9,9 0 1,0 -18,0M2935.4,224.5a9,9 0 1,0 18,0a9,9 0 1,0 -18,0M2940.6,217.6a9,9 0 1,0 18,0a9,9 0 1,0 -18,0M2946.4,224.3a9,9 0 1,0 18,0a9,9 0 1,0 -18,0M2947.7,218.1a9,9 0 1,0 18,0a9,9 0 1,0 -18,0M2953.1,225.3a9,9 0 1,0 18,0a9,9 0 1,0 -18,0M2956.3,215.4a9,9 0 1,0 18,0a9,9 0 1,0 -18,0M2959.7,227.1a9,9 0 1,0 18,0a9,9 0 1,0 -18,0M2962.6,215.9a9,9 0 1,0 18,0a9,9 0 1,0 -18,0M2965.8,224.8a9,9 0 1,0 18,0a9,9 0 1,0 -18,0M2968.9,217.1a9,9 0 1,0 18,0a9,9 0 1,0 -18,0M2973.6,224.3a9,9 0 1,0 18,0a9,9 0 1,0 -18,0M2979.4,217.1a9,9 0 1,0 18,0a9,9 0 1,0 -18,0M2983.7,227.9a9,9 0 1,0 18,0a9,9 0 1,0 -18,0M2989.1,214.2a9,9 0 1,0 18,0a9,9 0 1,0 -18,0M2992.3,225.6a9,9 0 1,0 18,0a9,9 0 1,0 -18,0M2997.7,215.2a9,9 0 1,0 18,0a9,9 0 1,0 -18,0M3003.5,227.8a9,9 0 1,0 18,0a9,9 0 1,0 -18,0M3005.4,215.2a9,9 0 1,0 18,0a9,9 0 1,0 -18,0M3010.9,229.7a9,9 0 1,0 18,0a9,9 0 1,0 -18,0M3015.3,216.7a9,9 0 1,0 18,0a9,9 0 1,0 -18,0M3018.1,228.8a9,9 0 1,0 18,0a9,9 0 1,0 -18,0M3025.4,217.0a9,9 0 1,0 18,0a9,9 0 1,0 -18,0M3030.6,226.2a9,9 0 1,0 18,0a9,9 0 1,0 -18,0M3035.4,220.7a9,9 0 1,0 18,0a9,9 0 1,0 -18,0M3037.5,226.8a9,9 0 1,0 18,0a9,9 0 1,0 -18,0M3045.8,217.9a9,9 0 1,0 18,0a9,9 0 1,0 -18,0M3048.8,227.9a9,9 0 1,0 18,0a9,9 0 1,0 -18,0M3054.4,218.9a9,9 0 1,0 18,0a9,9 0 1,0 -18,0M3058.3,225.9a9,9 0 1,0 18,0a9,9 0 1,0 -18,0M3060.4,217.1a9,9 0 1,0 18,0a9,9 0 1,0 -18,0M3062.9,228.5a9,9 0 1,0 18,0a9,9 0 1,0 -18,0M3066.7,220.4a9,9 0 1,0 18,0a9,9 0 1,0 -18,0M3072.2,228.7a9,9 0 1,0 18,0a9,9 0 1,0 -18,0M3075.3,217.2a9,9 0 1,0 18,0a9,9 0 1,0 -18,0M3078.5,227.6a9,9 0 1,0 18,0a9,9 0 1,0 -18,0M3084.5,217.7a9,9 0 1,0 18,0a9,9 0 1,0 -18,0M3087.9,228.2a9,9 0 1,0 18,0a9,9 0 1,0 -18,0M3092.1,215.5a9,9 0 1,0 18,0a9,9 0 1,0 -18,0M3096.4,226.2a9,9 0 1,0 18,0a9,9 0 1,0 -18,0M3100.0,215.7a9,9 0 1,0 18,0a9,9 0 1,0 -18,0M3102.7,227.7a9,9 0 1,0 18,0a9,9 0 1,0 -18,0M3109.1,218.9a9,9 0 1,0 18,0a9,9 0 1,0 -18,0M3112.6,226.2a9,9 0 1,0 18,0a9,9 0 1,0 -18,0M3118.2,217.8a9,9 0 1,0 18,0a9,9 0 1,0 -18,0M3121.7,227.6a9,9 0 1,0 18,0a9,9 0 1,0 -18,0M3127.7,218.1a9,9 0 1,0 18,0a9,9 0 1,0 -18,0M3132.5,228.0a9,9 0 1,0 18,0a9,9 0 1,0 -18,0M3134.9,218.9a9,9 0 1,0 18,0a9,9 0 1,0 -18,0M3139.7,229.7a9,9 0 1,0 18,0a9,9 0 1,0 -18,0M3143.0,218.5a9,9 0 1,0 18,0a9,9 0 1,0 -18,0M3148.6,226.0a9,9 0 1,0 18,0a9,9 0 1,0 -18,0M3150.9,219.7a9,9 0 1,0 18,0a9,9 0 1,0 -18,0M3156.1,228.3a9,9 0 1,0 18,0a9,9 0 1,0 -18,0M3159.2,215.9a9,9 0 1,0 18,0a9,9 0 1,0 -18,0M3164.5,226.4a9,9 0 1,0 18,0a9,9 0 1,0 -18,0M3169.7,217.7a9,9 0 1,0 18,0a9,9 0 1,0 -18,0M3174.3,225.7a9,9 0 1,0 18,0a9,9 0 1,0 -18,0M3178.5,214.1a9,9 0 1,0 18,0a9,9 0 1,0 -18,0M3182.8,228.3a9,9 0 1,0 18,0a9,9 0 1,0 -18,0M3185.2,216.6a9,9 0 1,0 18,0a9,9 0 1,0 -18,0M3187.4,227.8a9,9 0 1,0 18,0a9,9 0 1,0 -18,0M3191.7,217.2a9,9 0 1,0 18,0a9,9 0 1,0 -18,0M3194.4,227.9a9,9 0 1,0 18,0a9,9 0 1,0 -18,0M3201.9,214.2a9,9 0 1,0 18,0a9,9 0 1,0 -18,0M3207.3,225.3a9,9 0 1,0 18,0a9,9 0 1,0 -18,0M3212.1,217.7a9,9 0 1,0 18,0a9,9 0 1,0 -18,0M3216.4,224.8a9,9 0 1,0 18,0a9,9 0 1,0 -18,0M3218.3,217.0a9,9 0 1,0 18,0a9,9 0 1,0 -18,0M3222.3,225.1a9,9 0 1,0 18,0a9,9 0 1,0 -18,0M3224.8,218.0a9,9 0 1,0 18,0a9,9 0 1,0 -18,0M3230.5,227.8a9,9 0 1,0 18,0a9,9 0 1,0 -18,0M3232.4,219.3a9,9 0 1,0 18,0a9,9 0 1,0 -18,0M3233.0,224.8a9,9 0 1,0 18,0a9,9 0 1,0 -18,0M2544.0,208.3a9,9 0 1,0 18,0a9,9 0 1,0 -18,0M2544.0,212.4a9,9 0 1,0 18,0a9,9 0 1,0 -18,0M2544.0,216.4a9,9 0 1,0 18,0a9,9 0 1,0 -18,0M2544.0,220.4a9,9 0 1,0 18,0a9,9 0 1,0 -18,0M2544.0,224.5a9,9 0 1,0 18,0a9,9 0 1,0 -18,0M3233.0,218.2a9,9 0 1,0 18,0a9,9 0 1,0 -18,0M3233.0,224.8a9,9 0 1,0 18,0a9,9 0 1,0 -18,0" fill="#ff0000"/>
<polygon points="2551.0,222.0 2547.0,210.0 2553.0,206.3 2560.0,208.0 2573.5,209.4 2608.0,216.4 2646.0,218.7 2670.0,212.5 2700.0,212.5 2778.0,214.0 2794.0,217.2 2840.0,214.0 2870.0,215.6 2930.0,217.0 2972.0,212.5 3008.0,212.5 3050.0,217.0 3100.0,214.0 3150.0,216.0 3190.0,212.5 3230.0,213.0 3245.0,217.0 3244.0,228.0 3243.0,218.0 3240.0,229.0 3200.0,229.0 3150.0,231.0 3100.0,230.0 3050.0,230.0 3020.0,232.6 3000.0,229.0 2950.0,229.0 2900.0,228.8 2850.0,231.0 2820.0,231.0 2790.0,228.8 2770.0,229.6 2660.0,228.0 2650.0,234.2 2640.0,229.6 2608.0,229.6 2590.0,226.5 2547.0,226.5 2551.0,218.0" fill="#ff0000"/>
<path d="M2545.5,515.3h16v16h-16zM2548.4,513.7h16v16h-16zM2554.2,515.9h16v16h-16zM2558.4,515.5h16v16h-16zM2567.3,511.6h16v16h-16zM2571.9,515.5h16v16h-16zM2576.2,512.8h16v16h-16zM2583.2,515.3h16v16h-16zM2586.4,515.3h16v16h-16zM2594.1,514.0h16v16h-16zM2598.4,516.4h16v16h-16zM2600.7,513.1h16v16h-16zM2609.3,514.0h16v16h-16zM2612.0,514.8h16v16h-16zM2625.5,514.1h16v16h-16zM2631.0,513.9h16v16h-16zM2637.2,515.2h16v16h-16zM2639.6,515.6h16v16h-16zM2647.2,515.6h16v16h-16zM2651.8,514.9h16v16h-16zM2661.1,515.0h16v16h-16zM2664.9,513.5h16v16h-16zM2676.1,514.4h16v16h-16zM2681.5,514.3h16v16h-16zM2692.8,515.9h16v16h-16zM2696.6,513.0h16v16h-16zM2702.0,514.9h16v16h-16zM2708.6,515.5h16v16h-16zM2714.9,513.8h16v16h-16zM2720.9,513.7h16v16h-16zM2728.6,516.4h16v16h-16zM2732.5,513.9h16v16h-16zM2742.6,515.5h16v16h-16zM2747.3,513.5h16v16h-16zM2760.0,515.2h16v16h-16zM2766.0,515.9h16v16h-16zM2775.0,515.7h16v16h-16zM2783.0,513.7h16v16h-16zM2785.9,515.0h16v16h-16zM2791.9,516.2h16v16h-16zM2798.5,514.4h16v16h-16zM2801.2,516.1h16v16h-16zM2814.2,514.3h16v16h-16zM2817.7,515.2h16v16h-16zM2830.9,514.1h16v16h-16zM2835.6,514.8h16v16h-16zM2847.7,516.4h16v16h-16zM2854.9,515.4h16v16h-16zM2859.9,515.0h16v16h-16zM2867.2,513.1h16v16h-16zM2869.4,514.5h16v16h-16zM2872.8,515.2h16v16h-16zM2882.3,515.8h16v16h-16zM2885.8,515.6h16v16h-16zM2894.4,515.1h16v16h-16zM2899.8,512.6h16v16h-16zM2909.3,515.5h16v16h-16zM2915.1,513.4h16v16h-16zM2917.9,516.7h16v16h-16zM2924.6,512.7h16v16h-16zM2933.9,515.2h16v16h-16zM2938.3,515.0h16v16h-16zM2948.2,514.2h16v16h-16zM2950.6,514.6h16v16h-16zM2957.8,515.0h16v16h-16zM2960.1,515.2h16v16h-16zM2967.3,514.3h16v16h-16zM2971.5,515.0h16v16h-16zM2984.1,515.8h16v16h-16zM2987.0,514.3h16v16h-16zM2995.6,515.1h16v16h-16zM2998.3,512.4h16v16h-16zM3013.5,515.3h16v16h-16zM3018.4,514.6h16v16h-16zM3022.5,514.5h16v16h-16zM3026.1,512.3h16v16h-16zM3032.1,513.0h16v16h-16zM3039.8,513.2h16v16h-16zM3041.6,514.1h16v16h-16zM3043.8,513.2h16v16h-16zM3059.4,514.6h16v16h-16zM3065.6,513.8h16v16h-16zM3071.0,512.5h16v16h-16zM3077.7,513.0h16v16h-16zM3086.8,514.1h16v16h-16zM3090.2,512.1h16v16h-16zM3104.7,514.8h16v16h-16zM3111.5,512.2h16v16h-16zM3120.1,512.2h16v16h-16zM3125.2,513.8h16v16h-16zM3128.4,511.6h16v16h-16zM3132.1,514.1h16v16h-16zM3143.3,515.5h16v16h-16zM3148.0,512.2h16v16h-16zM3161.2,516.0h16v16h-16zM3165.4,514.6h16v16h-16zM3171.5,513.3h16v16h-16zM3174.7,513.5h16v16h-16zM3188.5,514.6h16v16h-16zM3193.3,513.5h16v16h-16zM3204.5,511.8h16v16h-16zM3210.4,512.2h16v16h-16zM3220.3,514.0h16v16h-16zM3225.1,514.0h16v16h-16zM3233.4,512.5h16v16h-16zM3233.4,513.7h16v16h-16zM2545.5,514.8h16v16h-16zM2545.5,515.1h16v16h-16z" fill="#000"/>
<polygon points="2548.5,521.8 2570.0,521.8 2575.0,519.0 2586.0,519.0 2595.0,521.0 2900.0,521.5 3019.0,521.5 3060.0,519.5 3080.0,519.5 3100.0,521.0 3120.0,519.0 3140.0,519.0 3160.0,521.0 3210.0,519.0 3246.4,519.6 3246.4,522.5 3200.0,524.0 3100.0,523.0 3000.0,523.5 2900.0,524.0 2850.0,525.0 2750.0,524.5 2548.5,524.1" fill="#000"/>
<rect x="3019.6" y="506.4" width="14" height="16"/>
<circle cx="357.2" cy="86.5" r="8.4" fill="#ff0000"/>
<rect x="350.7" y="138.8" width="13.4" height="13.4" fill="#000"/>
<text transform="translate(383.08,100.90) scale(1.1395,1)" font-size="50.38">HRS</text>
<path d="M532.9,86.8A17.6,17.0 0 1,0 515.3,101.3Q524.3,101.5 532.3,97.8" fill="none" stroke="#000" stroke-width="1.7"/>
<ellipse cx="514.9" cy="84.6" rx="8.3" ry="8.9" fill="none" stroke="#000" stroke-width="2.7"/>
<path d="M526.5,77.5V91.3Q526.7,94.9 529.5,94.7Q532.7,94.1 533.0,86.3" fill="none" stroke="#000" stroke-width="3.0"/>
<text transform="translate(536.58,100.90) scale(1.1480,1)" font-size="49.32">0.05</text>
<text transform="translate(655.46,100.90) scale(1.0633,1)" font-size="50.38">V</text>
<text transform="translate(383.09,160.10) scale(1.1345,1)" font-size="50.38">LRS</text>
<path d="M526.0,146.0A17.6,17.0 0 1,0 508.4,160.5Q517.4,160.7 525.4,157.0" fill="none" stroke="#000" stroke-width="1.7"/>
<ellipse cx="508.0" cy="143.8" rx="8.3" ry="8.9" fill="none" stroke="#000" stroke-width="2.7"/>
<path d="M519.6,136.7V150.5Q519.8,154.1 522.6,153.9Q525.8,153.3 526.1,145.5" fill="none" stroke="#000" stroke-width="3.0"/>
<text transform="translate(529.68,160.10) scale(1.1468,1)" font-size="49.32">0.05</text>
<text transform="translate(648.56,160.10) scale(1.0633,1)" font-size="50.38">V</text>
<circle cx="1378.5" cy="312.4" r="8.4" fill="#ff0000"/>
<rect x="1371.8" y="365.0" width="13.4" height="13.4" fill="#000"/>
<text transform="translate(1405.28,327.00) scale(1.1395,1)" font-size="50.38">HRS</text>
<path d="M1555.1,312.9A17.6,17.0 0 1,0 1537.5,327.4Q1546.5,327.6 1554.5,323.9" fill="none" stroke="#000" stroke-width="1.7"/>
<ellipse cx="1537.1" cy="310.7" rx="8.3" ry="8.9" fill="none" stroke="#000" stroke-width="2.7"/>
<path d="M1548.7,303.6V317.4Q1548.9,321.0 1551.7,320.8Q1554.9,320.2 1555.2,312.4" fill="none" stroke="#000" stroke-width="3.0"/>
<text transform="translate(1558.78,327.00) scale(1.1480,1)" font-size="49.32">0.05</text>
<text transform="translate(1677.66,327.00) scale(1.0633,1)" font-size="50.38">V</text>
<text transform="translate(1405.29,385.90) scale(1.1345,1)" font-size="50.38">LRS</text>
<path d="M1548.2,371.8A17.6,17.0 0 1,0 1530.6,386.3Q1539.6,386.5 1547.6,382.8" fill="none" stroke="#000" stroke-width="1.7"/>
<ellipse cx="1530.2" cy="369.6" rx="8.3" ry="8.9" fill="none" stroke="#000" stroke-width="2.7"/>
<path d="M1541.8,362.5V376.3Q1542.0,379.9 1544.8,379.7Q1548.0,379.1 1548.3,371.3" fill="none" stroke="#000" stroke-width="3.0"/>
<text transform="translate(1551.88,385.90) scale(1.1468,1)" font-size="49.32">0.05</text>
<text transform="translate(1670.76,385.90) scale(1.0633,1)" font-size="50.38">V</text>
<circle cx="2510.4" cy="312.4" r="8.4" fill="#ff0000"/>
<rect x="2503.9" y="365.0" width="13.4" height="13.4" fill="#000"/>
<text transform="translate(2536.28,327.00) scale(1.1395,1)" font-size="50.38">HRS</text>
<path d="M2686.1,312.9A17.6,17.0 0 1,0 2668.5,327.4Q2677.5,327.6 2685.5,323.9" fill="none" stroke="#000" stroke-width="1.7"/>
<ellipse cx="2668.1" cy="310.7" rx="8.3" ry="8.9" fill="none" stroke="#000" stroke-width="2.7"/>
<path d="M2679.7,303.6V317.4Q2679.9,321.0 2682.7,320.8Q2685.9,320.2 2686.2,312.4" fill="none" stroke="#000" stroke-width="3.0"/>
<text transform="translate(2689.78,327.00) scale(1.1480,1)" font-size="49.32">0.05</text>
<text transform="translate(2808.66,327.00) scale(1.0633,1)" font-size="50.38">V</text>
<text transform="translate(2536.29,385.90) scale(1.1345,1)" font-size="50.38">LRS</text>
<path d="M2679.2,371.8A17.6,17.0 0 1,0 2661.6,386.3Q2670.6,386.5 2678.6,382.8" fill="none" stroke="#000" stroke-width="1.7"/>
<ellipse cx="2661.2" cy="369.6" rx="8.3" ry="8.9" fill="none" stroke="#000" stroke-width="2.7"/>
<path d="M2672.8,362.5V376.3Q2673.0,379.9 2675.8,379.7Q2679.0,379.1 2679.3,371.3" fill="none" stroke="#000" stroke-width="3.0"/>
<text transform="translate(2682.88,385.90) scale(1.1468,1)" font-size="49.32">0.05</text>
<text transform="translate(2801.76,385.90) scale(1.0633,1)" font-size="50.38">V</text>
</svg></body></html>
